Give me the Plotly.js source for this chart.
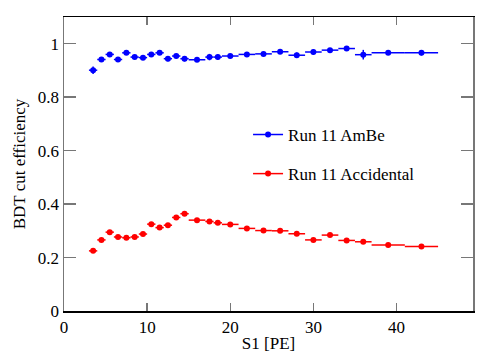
<!DOCTYPE html>
<html>
<head>
<meta charset="utf-8">
<script src="https://cdn.plot.ly/plotly-3.0.1.min.js"></script>
<style>html,body{margin:0;padding:0;background:#fff}#chart{width:498px;height:358px}</style>
</head>
<body>
<div id="chart"></div>
<script>
// S1 bin centres and half-widths [PE]
const s1 = [3.5,4.5,5.5,6.5,7.5,8.5,9.5,10.5,11.5,12.5,13.5,14.5,16,17.5,18.5,20,22,24,26,28,30,32,34,36,39,43];
const s1HalfWidth = [0.5,0.5,0.5,0.5,0.5,0.5,0.5,0.5,0.5,0.5,0.5,0.5,1,0.5,0.5,1,1,1,1,1,1,1,1,1,2,2];

// Run 11 AmBe efficiency
const ambeEff = [0.901,0.941,0.960,0.941,0.966,0.950,0.948,0.960,0.966,0.944,0.954,0.944,0.940,0.950,0.950,0.954,0.960,0.962,0.970,0.957,0.969,0.976,0.982,0.959,0.966,0.966];
const ambeErr = [0.014,0.008,0.008,0.008,0.008,0.008,0.008,0.008,0.008,0.010,0.008,0.010,0.008,0.012,0.010,0.008,0.008,0.008,0.008,0.010,0.010,0.008,0.008,0.018,0.008,0.010];

// Run 11 Accidental efficiency
const accEff = [0.225,0.266,0.295,0.277,0.274,0.277,0.288,0.325,0.312,0.321,0.350,0.364,0.340,0.335,0.330,0.324,0.309,0.301,0.300,0.289,0.266,0.284,0.264,0.259,0.247,0.241];
const accErr = [0.005,0.005,0.005,0.005,0.005,0.005,0.005,0.005,0.005,0.005,0.005,0.005,0.004,0.004,0.004,0.004,0.004,0.004,0.004,0.004,0.004,0.004,0.004,0.004,0.004,0.004];

const seriesNames = ['Run 11 AmBe', 'Run 11 Accidental'];
const colors = ['#0000ff', '#ff0000'];

function dataTrace(y, err, color) {
  return {
    x: s1, y: y, type: 'scatter', mode: 'markers', showlegend: false,
    marker: {color: color, size: 6},
    error_x: {type: 'data', array: s1HalfWidth, color: color, thickness: 1.5, width: 0},
    error_y: {type: 'data', array: err, color: color, thickness: 1.5, width: 0}
  };
}
function legendTrace(name, color, grp) {
  return {
    x: [null], y: [null], type: 'scatter', mode: 'lines+markers', name: name,
    legendgroup: grp, line: {color: color, width: 1.5}, marker: {color: color, size: 6}
  };
}

const traces = [
  dataTrace(ambeEff, ambeErr, colors[0]),
  dataTrace(accEff, accErr, colors[1]),
  legendTrace(seriesNames[0], colors[0], 'a'),
  legendTrace(seriesNames[1], colors[1], 'b')
];

const font = {family: 'Liberation Serif, Times New Roman, serif', size: 17, color: '#000'};

const layout = {
  width: 498, height: 358,
  margin: {l: 64, r: 25, t: 17, b: 47},
  paper_bgcolor: '#fff', plot_bgcolor: '#fff',
  font: font,
  showlegend: true,
  legend: {x: 0.45, y: 0.66, xanchor: 'left', yanchor: 'top', bgcolor: 'rgba(0,0,0,0)',
           font: font, tracegroupgap: 14, itemwidth: 30},
  xaxis: {
    range: [0, 49.2], dtick: 10, tick0: 0,
    ticks: 'inside', ticklen: 8, tickcolor: '#777', tickwidth: 1.5,
    showline: true, linecolor: '#000', linewidth: 1.5, mirror: 'ticks',
    showgrid: false, zeroline: false,
    title: {text: 'S1 [PE]', font: font, standoff: 1},
    tickfont: font
  },
  yaxis: {
    range: [0, 1.1], dtick: 0.2, tick0: 0,
    ticks: 'inside', ticklen: 12, tickcolor: '#777', tickwidth: 1.5,
    showline: true, linecolor: '#777', linewidth: 1.5, mirror: 'ticks',
    showgrid: false, zeroline: false,
    title: {text: 'BDT cut efficiency', font: font, standoff: 8},
    tickfont: font
  }
};

Plotly.newPlot('chart', traces, layout, {displayModeBar: false, staticPlot: true});
</script>
</body>
</html>
